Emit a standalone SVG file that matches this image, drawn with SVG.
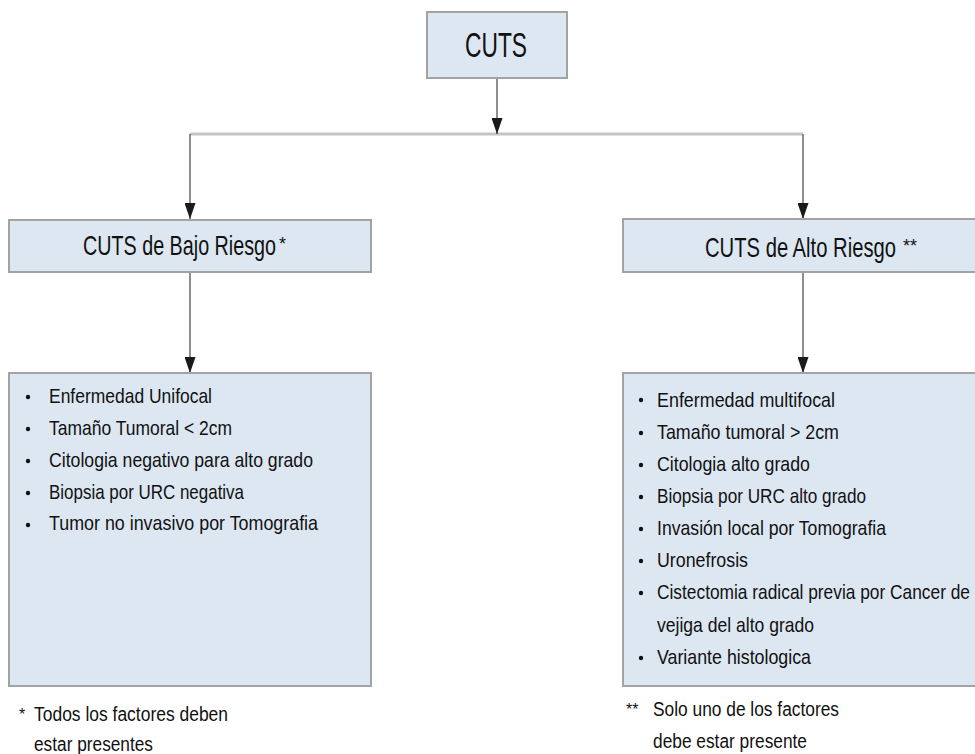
<svg xmlns="http://www.w3.org/2000/svg" width="975" height="754" viewBox="0 0 975 754">
<defs>
<marker id="arrV" viewBox="0 0 16 11" refX="16" refY="5.5" markerWidth="16" markerHeight="11" markerUnits="userSpaceOnUse" orient="auto">
<path d="M0,0 L16,5.5 L0,11 Z" fill="#1a1a1a"/>
</marker>
</defs>
<style>
.box{fill:#dde7f2;stroke:#a3a3a3;stroke-width:2}
.t{font-family:"Liberation Sans","Open Sans",Arial,sans-serif;fill:#111}
.h{font-size:28px}
.i{font-size:21px}
.f{font-size:20px}
.b{fill:#111}
.ln{stroke:#5e5e5e;stroke-width:1.4;fill:none}
.hl{stroke:#c4c4c4;stroke-width:3;fill:none}
</style>
<rect width="975" height="754" fill="#ffffff"/>
<g id="connectors">
<line class="hl" x1="190" y1="134" x2="803" y2="134"/>
<line class="ln" x1="497" y1="78" x2="497" y2="134" marker-end="url(#arrV)"/>
<line class="ln" x1="190" y1="134" x2="190" y2="219" marker-end="url(#arrV)"/>
<line class="ln" x1="803" y1="134" x2="803" y2="219" marker-end="url(#arrV)"/>
<line class="ln" x1="190" y1="272" x2="190" y2="373" marker-end="url(#arrV)"/>
<line class="ln" x1="803" y1="272" x2="803" y2="373" marker-end="url(#arrV)"/>
</g>
<g id="cuts">
<rect class="box" x="427" y="12" width="140" height="66"/>
<text class="t" x="465" y="57" font-size="35" textLength="62" lengthAdjust="spacingAndGlyphs">CUTS</text>
</g>
<g id="bajo">
<rect class="box" x="9" y="220" width="362" height="52"/>
<text class="t h" x="83" y="255"><tspan textLength="193" lengthAdjust="spacingAndGlyphs">CUTS de Bajo Riesgo</tspan><tspan font-size="18" dx="3" dy="-5">*</tspan></text>
</g>
<g id="alto">
<rect class="box" x="623" y="219" width="362" height="53"/>
<text class="t h" x="705" y="257"><tspan textLength="191" lengthAdjust="spacingAndGlyphs">CUTS de Alto Riesgo</tspan><tspan font-size="18" dx="7" dy="-5">**</tspan></text>
</g>
<g id="bajo-factores">
<rect class="box" x="9" y="373" width="362" height="313"/>
<g class="b">
<circle cx="28" cy="397" r="2.2"/><circle cx="28" cy="429" r="2.2"/><circle cx="28" cy="461" r="2.2"/><circle cx="28" cy="493" r="2.2"/><circle cx="28" cy="525" r="2.2"/>
</g>
<text class="t i" x="49" y="403" textLength="163" lengthAdjust="spacingAndGlyphs">Enfermedad Unifocal</text>
<text class="t i" x="49" y="435" textLength="183" lengthAdjust="spacingAndGlyphs">Tamaño Tumoral &lt; 2cm</text>
<text class="t i" x="49" y="467" textLength="264" lengthAdjust="spacingAndGlyphs">Citologia negativo para alto grado</text>
<text class="t i" x="49" y="499" textLength="195" lengthAdjust="spacingAndGlyphs">Biopsia por URC negativa</text>
<text class="t i" x="49" y="530" textLength="269" lengthAdjust="spacingAndGlyphs">Tumor no invasivo por Tomografia</text>
</g>
<g id="alto-factores">
<rect class="box" x="623" y="373" width="362" height="313"/>
<g class="b">
<circle cx="641" cy="400" r="2.2"/><circle cx="641" cy="433" r="2.2"/><circle cx="641" cy="465" r="2.2"/><circle cx="641" cy="497" r="2.2"/><circle cx="641" cy="529" r="2.2"/><circle cx="641" cy="561" r="2.2"/><circle cx="641" cy="593" r="2.2"/><circle cx="641" cy="658" r="2.2"/>
</g>
<text class="t i" x="657" y="407" textLength="178" lengthAdjust="spacingAndGlyphs">Enfermedad multifocal</text>
<text class="t i" x="657" y="439" textLength="182" lengthAdjust="spacingAndGlyphs">Tamaño tumoral &gt; 2cm</text>
<text class="t i" x="657" y="471" textLength="153" lengthAdjust="spacingAndGlyphs">Citologia alto grado</text>
<text class="t i" x="657" y="503" textLength="209" lengthAdjust="spacingAndGlyphs">Biopsia por URC alto grado</text>
<text class="t i" x="657" y="535" textLength="229" lengthAdjust="spacingAndGlyphs">Invasión local por Tomografia</text>
<text class="t i" x="657" y="567" textLength="91" lengthAdjust="spacingAndGlyphs">Uronefrosis</text>
<text class="t i" x="657" y="599" textLength="313" lengthAdjust="spacingAndGlyphs">Cistectomia radical previa por Cancer de</text>
<text class="t i" x="657" y="632" textLength="157" lengthAdjust="spacingAndGlyphs">vejiga del alto grado</text>
<text class="t i" x="657" y="664" textLength="154" lengthAdjust="spacingAndGlyphs">Variante histologica</text>
</g>
<g id="nota-bajo">
<text class="t" x="19" y="720" font-size="16">*</text>
<text class="t f" x="34" y="721" textLength="194" lengthAdjust="spacingAndGlyphs">Todos los factores deben</text>
<text class="t f" x="34" y="751" textLength="119" lengthAdjust="spacingAndGlyphs">estar presentes</text>
</g>
<g id="nota-alto">
<text class="t" x="626" y="715" font-size="16">**</text>
<text class="t f" x="653" y="716" textLength="186" lengthAdjust="spacingAndGlyphs">Solo uno de los factores</text>
<text class="t f" x="653" y="748" textLength="154" lengthAdjust="spacingAndGlyphs">debe estar presente</text>
</g>
</svg>
